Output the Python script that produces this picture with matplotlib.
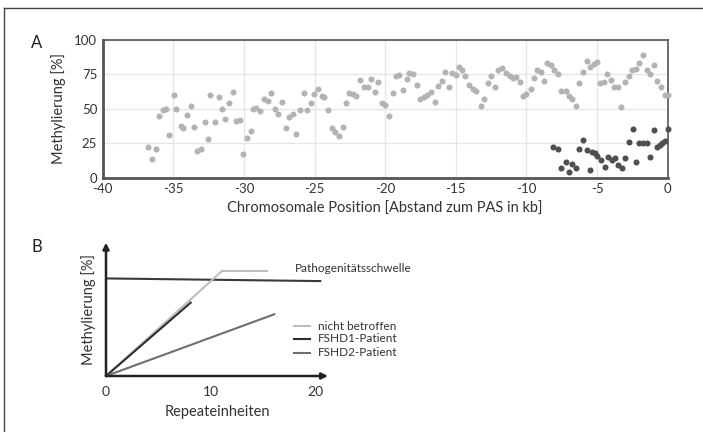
import numpy as np
import matplotlib.pyplot as plt
from matplotlib.lines import Line2D

plt.rcParams['font.family'] = ['Lato', 'DejaVu Sans']
plt.rcParams['axes.unicode_minus'] = False

# Panel A: nicht betroffen (hellgrau)
pos_hell = [-36.82, -36.51, -36.26, -36.04, -35.74, -35.50, -35.29, -34.98, -34.80, -34.49,
            -34.30, -34.02, -33.76, -33.55, -33.29, -33.03, -32.79, -32.51, -32.42, -32.02,
            -31.80, -31.55, -31.31, -31.05, -30.77, -30.56, -30.25, -30.06, -29.80, -29.52,
            -29.35, -29.12, -28.84, -28.58, -28.27, -28.06, -27.80, -27.59, -27.31, -27.02,
            -26.79, -26.53, -26.34, -26.06, -25.77, -25.56, -25.28, -25.07, -24.79, -24.50,
            -24.31, -24.03, -23.80, -23.56, -23.28, -23.02, -22.78, -22.57, -22.29, -22.05,
            -21.80, -21.49, -21.25, -20.97, -20.73, -20.50, -20.26, -20.02, -19.74, -19.48,
            -19.27, -18.99, -18.77, -18.49, -18.28, -18.02, -17.74, -17.52, -17.26, -17.03,
            -16.77, -16.49, -16.27, -15.99, -15.75, -15.50, -15.26, -14.98, -14.79, -14.55,
            -14.32, -14.06, -13.80, -13.54, -13.23, -13.00, -12.74, -12.50, -12.24, -11.98,
            -11.72, -11.46, -11.20, -10.97, -10.71, -10.45, -10.24, -10.00, -9.69, -9.46,
            -9.22, -8.96, -8.75, -8.51, -8.25, -8.02, -7.78, -7.52, -7.22, -6.96,
            -6.75, -6.46, -6.25, -5.97, -5.73, -5.50, -5.21, -4.98, -4.76, -4.50,
            -4.27, -4.01, -3.77, -3.51, -3.28, -3.00, -2.76, -2.50, -2.26, -2.05,
            -1.75, -1.49, -1.23, -0.97, -0.75, -0.50, -0.21, 0.0]
meth_hell = [22.0, 13.8, 21.1, 44.8, 48.9, 49.9, 30.8, 60.3, 49.6, 37.5,
             36.1, 45.3, 51.8, 37.0, 19.6, 20.8, 40.7, 28.1, 59.8, 40.7,
             58.6, 50.1, 42.9, 54.2, 62.0, 41.2, 41.6, 17.4, 28.6, 33.9,
             50.1, 50.6, 48.4, 57.4, 55.9, 61.7, 49.6, 46.5, 55.0, 36.1,
             43.8, 46.0, 31.5, 48.9, 61.7, 49.4, 54.2, 60.8, 64.6, 59.6,
             58.4, 49.2, 36.1, 33.4, 30.3, 36.6, 54.2, 61.7, 61.0, 59.1,
             70.8, 65.6, 65.6, 71.4, 62.5, 69.7, 54.5, 52.5, 44.6, 61.7,
             73.8, 74.8, 63.4, 71.4, 76.3, 75.5, 67.3, 57.4, 58.8, 59.8,
             62.0, 54.7, 66.8, 70.5, 77.0, 66.1, 76.0, 74.8, 80.1, 78.0,
             73.8, 67.3, 64.2, 62.7, 51.8, 57.4, 68.5, 73.8, 65.9, 78.2,
             79.9, 75.8, 73.8, 72.6, 73.4, 69.2, 59.1, 60.5, 64.2, 72.6,
             78.0, 76.8, 70.0, 83.1, 81.6, 78.2, 75.5, 62.7, 63.0, 59.3,
             57.4, 52.3, 68.8, 76.5, 85.0, 80.4, 82.6, 84.3, 68.5, 69.7,
             75.3, 70.9, 66.1, 66.1, 51.6, 69.2, 73.8, 78.2, 79.0, 83.1,
             89.1, 78.2, 75.1, 81.6, 70.5, 66.1, 60.0, 60.0]

# Panel A: FSHD2-Patient (dunkelgrau)
pos_dunkel = [-8.09, -7.76, -7.52, -7.19, -6.96, -6.75, -6.46, -6.25, -5.97, -5.71,
              -5.50, -5.38, -5.14, -4.98, -4.72, -4.46, -4.22, -3.96, -3.73, -3.54,
              -3.25, -3.00, -2.71, -2.48, -2.22, -2.05, -1.77, -1.49, -1.23, -0.97,
              -0.75, -0.57, -0.38, -0.19, 0.0]
meth_dunkel = [22.0, 20.6, 6.8, 11.6, 4.4, 9.7, 7.3, 20.8, 27.4, 20.1,
               5.6, 18.6, 17.7, 15.7, 12.6, 8.0, 14.8, 12.8, 14.0, 9.2,
               6.8, 14.3, 26.2, 35.6, 11.4, 25.4, 25.4, 24.9, 15.3, 34.6,
               22.5, 24.0, 25.4, 26.6, 35.1]

# Panel B: schematische Linien (x = Repeateinheiten, y = Methylierung)
schwelle_x = [0, 20.5]
schwelle_y = [73.2, 71.2]
nicht_betroffen_x = [0, 11.1, 15.4]
nicht_betroffen_y = [0, 78.8, 78.8]
fshd1_x = [0, 8.1]
fshd1_y = [0, 55.0]
fshd2_x = [0, 16.1]
fshd2_y = [0, 46.3]
legende = ["nicht betroffen", "FSHD1-Patient", "FSHD2-Patient"]

W, H = 703, 432
fig = plt.figure(figsize=(W / 100, H / 100), dpi=100)
txt = '#333333'

# Rahmen
fig.add_artist(Line2D([3.5 / W, 3.5 / W], [0, 1 - 8 / H], color='#444444', lw=1))
fig.add_artist(Line2D([3.5 / W, 1], [1 - 8 / H, 1 - 8 / H], color='#444444', lw=1))

# ---- Panel A ----
axA = fig.add_axes([102.7 / W, 1 - 177.7 / H, 565 / W, 137.7 / H])
axA.scatter(pos_hell, meth_hell, s=19, color='#b3b3b3', linewidths=0, zorder=3, clip_on=False)
axA.scatter(pos_dunkel, meth_dunkel, s=19, color='#4f4f4f', linewidths=0, zorder=4, clip_on=False)
axA.set_xlim(-40, 0)
axA.set_ylim(0, 100)
axA.set_xticks([-40, -35, -30, -25, -20, -15, -10, -5, 0])
axA.set_yticks([0, 25, 50, 75, 100])
axA.grid(True, color='#e6e6e6', lw=1)
axA.set_axisbelow(True)
for s in axA.spines.values():
    s.set_color('#555555')
    s.set_linewidth(1.2)
axA.spines['left'].set_linewidth(2)
axA.spines['bottom'].set_linewidth(2)
axA.tick_params(length=0, labelsize=9.5, labelcolor=txt, pad=4)
axA.set_xlabel("Chromosomale Position [Abstand zum PAS in kb]", fontsize=10.5, color=txt, labelpad=5)
axA.set_ylabel("Methylierung [%]", fontsize=10.5, color=txt, labelpad=6)
fig.text(37 / W, 1 - 43 / H, "A", fontsize=12, color='#222222', va='center', ha='center')

# ---- Panel B ----
axB = fig.add_axes([106 / W, 1 - 376 / H, 222 / W, 133.3 / H])
axB.set_xlim(0, 21.24)
axB.set_ylim(0, 100)
for s in axB.spines.values():
    s.set_visible(False)
axB.annotate('', xy=(21.24, 0), xytext=(0, 0), xycoords='data',
             arrowprops=dict(arrowstyle='-|>', color='#222222', lw=1.8, mutation_scale=9,
                             shrinkA=0, shrinkB=0), annotation_clip=False)
axB.annotate('', xy=(0, 100), xytext=(0, 0), xycoords='data',
             arrowprops=dict(arrowstyle='-|>', color='#222222', lw=1.8, mutation_scale=9,
                             shrinkA=0, shrinkB=0), annotation_clip=False)
axB.plot(schwelle_x, schwelle_y, color='#3a3a3a', lw=1.5, clip_on=False)
axB.plot(nicht_betroffen_x, nicht_betroffen_y, color='#bdbdbd', lw=1.5, clip_on=False)
axB.plot(fshd1_x, fshd1_y, color='#2e2e2e', lw=1.5, clip_on=False)
axB.plot(fshd2_x, fshd2_y, color='#6e6e6e', lw=1.5, clip_on=False)
axB.set_xticks([0, 10, 20])
axB.set_yticks([])
axB.tick_params(length=0, labelsize=10, labelcolor=txt, pad=7)
axB.set_xlabel("Repeateinheiten", fontsize=10.5, color=txt, labelpad=5)
axB.set_ylabel("Methylierung [%]", fontsize=10.5, color=txt, labelpad=7)
axB.text(18.1, 81, "Pathogenitätsschwelle", fontsize=8.5, color=txt, va='center', ha='left', clip_on=False)
farben = ['#bdbdbd', '#2e2e2e', '#6e6e6e']
zeilen = [37.5, 27.8, 17.3]
for name, f, yy in zip(legende, farben, zeilen):
    axB.plot([18.0, 19.5], [yy, yy], color=f, lw=1.5, clip_on=False)
    axB.text(20.3, yy, name, fontsize=8.5, color=txt, va='center', ha='left', clip_on=False)
fig.text(37 / W, 1 - 247 / H, "B", fontsize=12, color='#222222', va='center', ha='center')

fig.savefig("out.png", dpi=100)
